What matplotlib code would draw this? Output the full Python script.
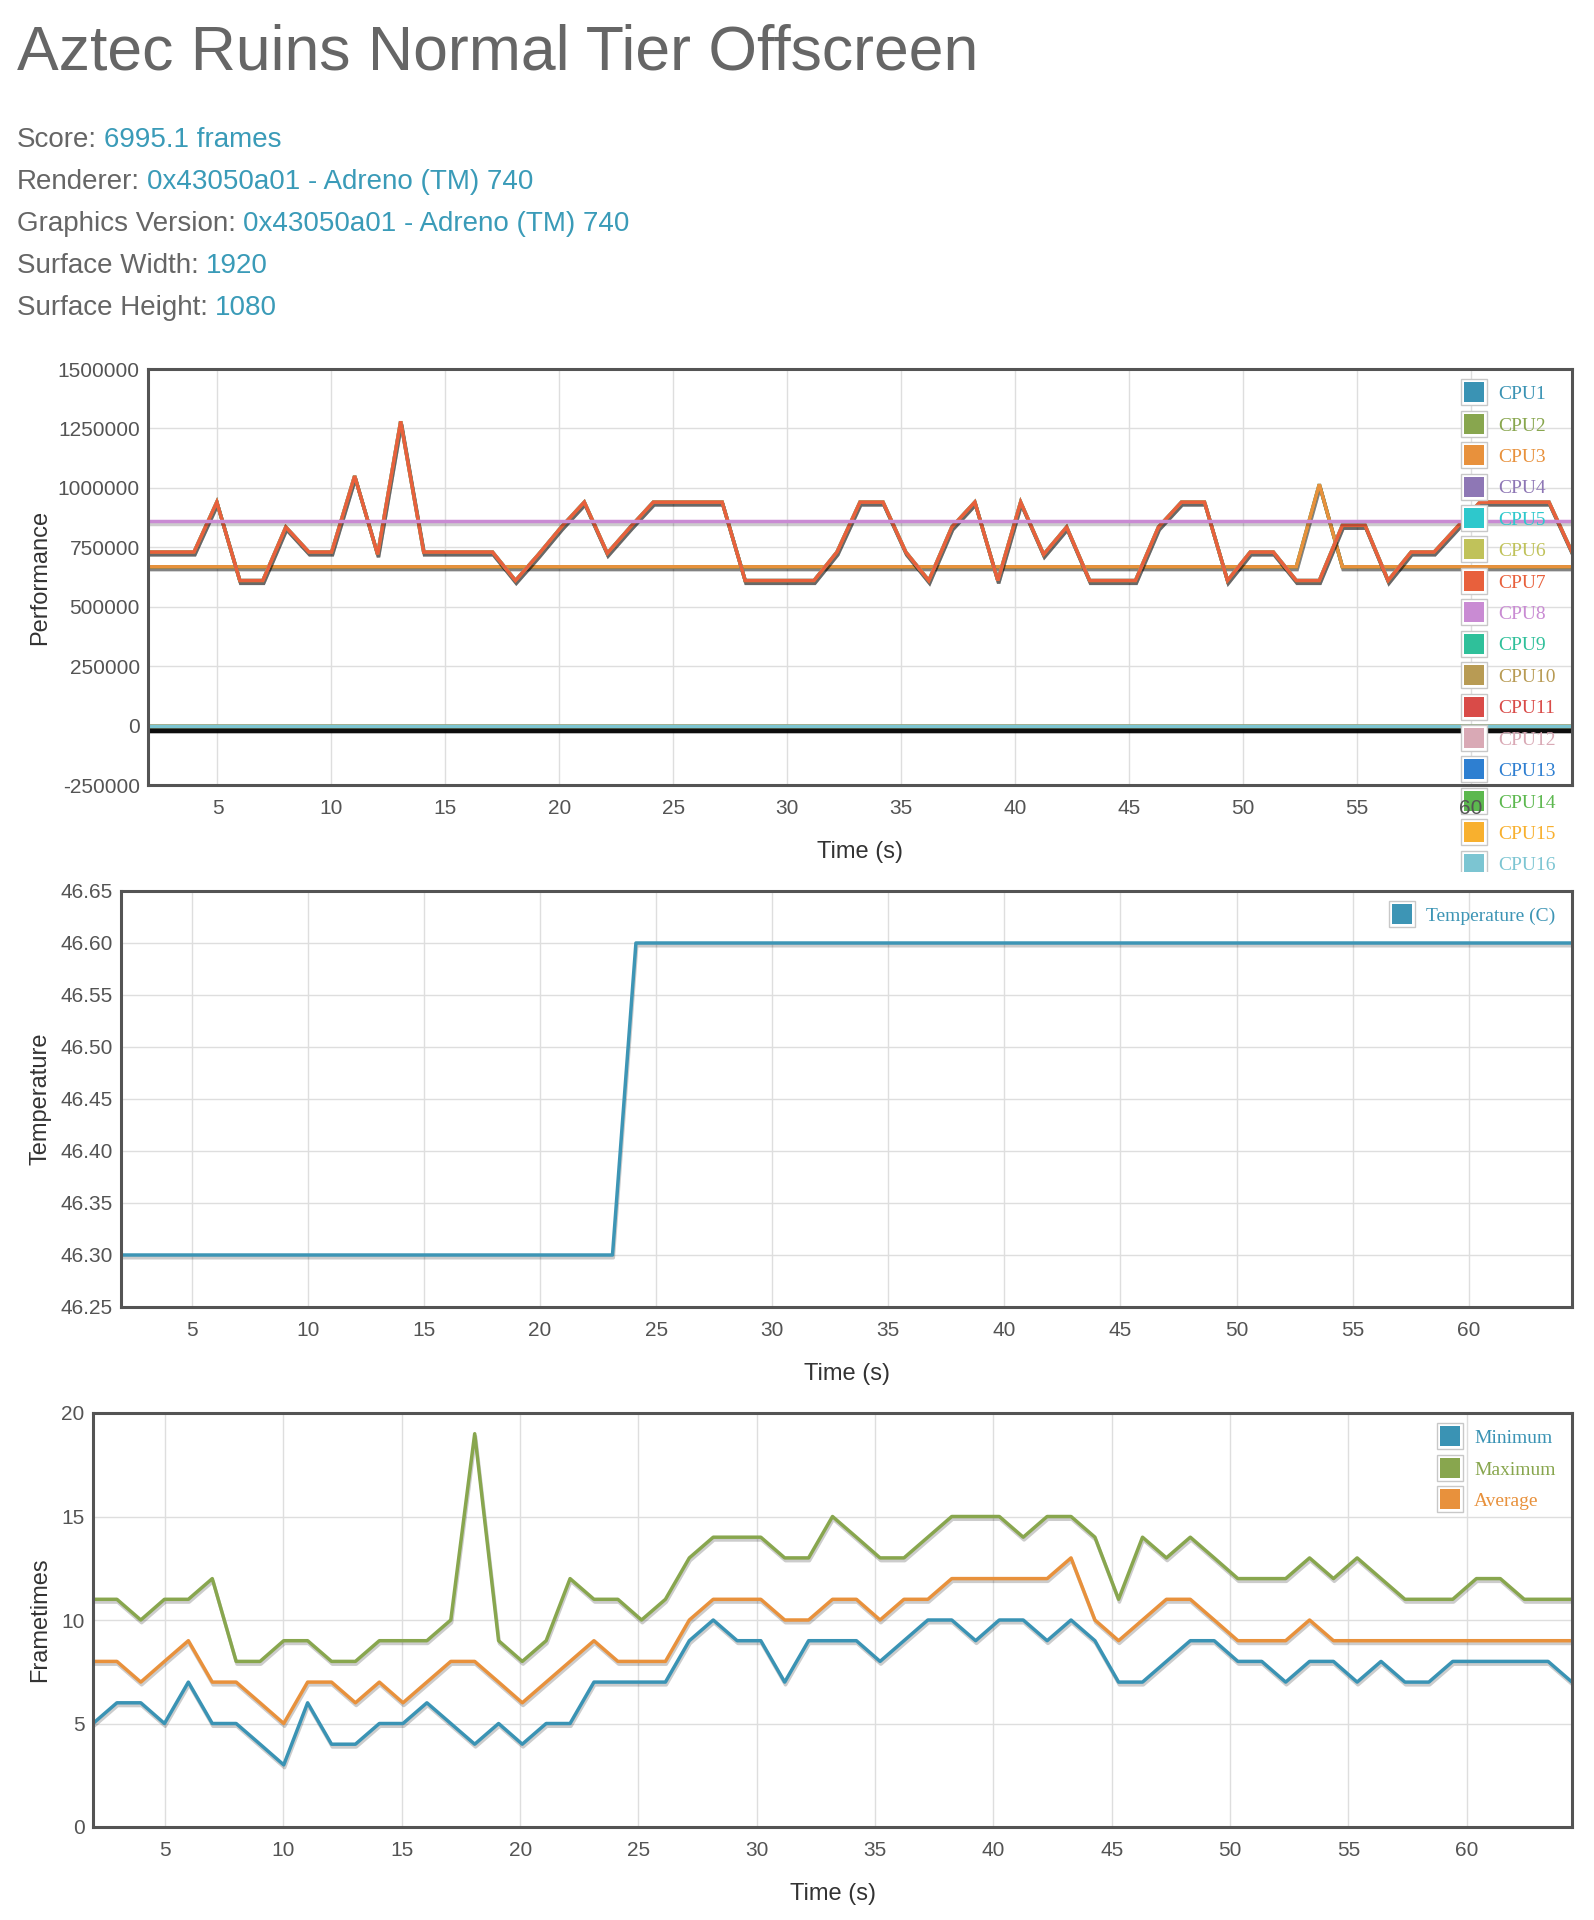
import numpy as np
import matplotlib
matplotlib.use("Agg")
import matplotlib.pyplot as plt
import matplotlib.patheffects as pe
from matplotlib.lines import Line2D
from matplotlib.legend_handler import HandlerTuple
from matplotlib.patches import Rectangle

plt.rcParams['font.family'] = ['Liberation Sans', 'DejaVu Sans']

# ---- data ----
title = "Aztec Ruins Normal Tier Offscreen"
info_labels = ["Score:", "Renderer:", "Graphics Version:", "Surface Width:", "Surface Height:"]
info_values = ["6995.1 frames", "0x43050a01 - Adreno (TM) 740", "0x43050a01 - Adreno (TM) 740", "1920", "1080"]

# sample times (s)
times = [1.95, 2.96, 3.97, 4.97, 5.98, 6.99, 8.00, 9.01, 10.01,
         11.02, 12.03, 13.04, 14.05, 15.05, 16.06, 17.07, 18.08, 19.09,
         20.09, 21.10, 22.11, 23.12, 24.13, 25.13, 26.14, 27.15, 28.16,
         29.17, 30.17, 31.18, 32.19, 33.20, 34.21, 35.21, 36.22, 37.23,
         38.24, 39.25, 40.25, 41.26, 42.27, 43.28, 44.29, 45.29, 46.30,
         47.31, 48.32, 49.33, 50.33, 51.34, 52.35, 53.36, 54.37, 55.37,
         56.38, 57.39, 58.40, 59.41, 60.41, 61.42, 62.43, 63.44, 64.45]

# CPU1-3 (little cluster)
cpu_little = [668000, 668000, 668000, 668000, 668000, 668000, 668000, 668000, 668000,
              668000, 668000, 668000, 668000, 668000, 668000, 668000, 668000, 668000,
              668000, 668000, 668000, 668000, 668000, 668000, 668000, 668000, 668000,
              668000, 668000, 668000, 668000, 668000, 668000, 668000, 668000, 668000,
              668000, 668000, 668000, 668000, 668000, 668000, 668000, 668000, 668000,
              668000, 668000, 668000, 668000, 668000, 668000, 1015000, 668000, 668000,
              668000, 668000, 668000, 668000, 668000, 668000, 668000, 668000, 668000]
# CPU4-7 (mid cluster)
cpu_mid = [730000, 730000, 730000, 940000, 610000, 610000, 835000, 730000, 730000,
           1050000, 720000, 1280000, 730000, 730000, 730000, 730000, 610000, 720000,
           835000, 940000, 725000, 835000, 940000, 940000, 940000, 940000, 610000,
           610000, 610000, 610000, 730000, 940000, 940000, 730000, 610000, 835000,
           940000, 610000, 940000, 720000, 835000, 610000, 610000, 610000, 835000,
           940000, 940000, 610000, 730000, 730000, 610000, 610000, 842000, 842000,
           610000, 730000, 730000, 835000, 940000, 940000, 940000, 940000, 730000]
# CPU8 (prime core)
cpu_prime = [860000, 860000, 860000, 860000, 860000, 860000, 860000, 860000, 860000,
             860000, 860000, 860000, 860000, 860000, 860000, 860000, 860000, 860000,
             860000, 860000, 860000, 860000, 860000, 860000, 860000, 860000, 860000,
             860000, 860000, 860000, 860000, 860000, 860000, 860000, 860000, 860000,
             860000, 860000, 860000, 860000, 860000, 860000, 860000, 860000, 860000,
             860000, 860000, 860000, 860000, 860000, 860000, 860000, 860000, 860000,
             860000, 860000, 860000, 860000, 860000, 860000, 860000, 860000, 860000]
# CPU9-16 (not present)
cpu_off = [0, 0, 0, 0, 0, 0, 0, 0, 0,
           0, 0, 0, 0, 0, 0, 0, 0, 0,
           0, 0, 0, 0, 0, 0, 0, 0, 0,
           0, 0, 0, 0, 0, 0, 0, 0, 0,
           0, 0, 0, 0, 0, 0, 0, 0, 0,
           0, 0, 0, 0, 0, 0, 0, 0, 0,
           0, 0, 0, 0, 0, 0, 0, 0, 0]

cpu_names = ["CPU%d" % (i + 1) for i in range(16)]
cpu_colors = ["#3a93b4", "#88a64e", "#e8913c", "#8e77b5", "#2ec8cc", "#c0c25a",
              "#e8603c", "#c98bd3", "#2fc09a", "#b89b54", "#d94b48", "#d9a9b5",
              "#2e7fd1", "#5cb84e", "#f8b02e", "#7cc5d2"]
cpu_series = [cpu_little] * 3 + [cpu_mid] * 4 + [cpu_prime] + [cpu_off] * 8

temperature = [46.3, 46.3, 46.3, 46.3, 46.3, 46.3, 46.3, 46.3, 46.3,
               46.3, 46.3, 46.3, 46.3, 46.3, 46.3, 46.3, 46.3, 46.3,
               46.3, 46.3, 46.3, 46.3, 46.6, 46.6, 46.6, 46.6, 46.6,
               46.6, 46.6, 46.6, 46.6, 46.6, 46.6, 46.6, 46.6, 46.6,
               46.6, 46.6, 46.6, 46.6, 46.6, 46.6, 46.6, 46.6, 46.6,
               46.6, 46.6, 46.6, 46.6, 46.6, 46.6, 46.6, 46.6, 46.6,
               46.6, 46.6, 46.6, 46.6, 46.6, 46.6, 46.6, 46.6, 46.6]

ft_min = [5, 6, 6, 5, 7, 5, 5, 4, 3,
          6, 4, 4, 5, 5, 6, 5, 4, 5,
          4, 5, 5, 7, 7, 7, 7, 9, 10,
          9, 9, 7, 9, 9, 9, 8, 9, 10,
          10, 9, 10, 10, 9, 10, 9, 7, 7,
          8, 9, 9, 8, 8, 7, 8, 8, 7,
          8, 7, 7, 8, 8, 8, 8, 8, 7]
ft_max = [11, 11, 10, 11, 11, 12, 8, 8, 9,
          9, 8, 8, 9, 9, 9, 10, 19, 9,
          8, 9, 12, 11, 11, 10, 11, 13, 14,
          14, 14, 13, 13, 15, 14, 13, 13, 14,
          15, 15, 15, 14, 15, 15, 14, 11, 14,
          13, 14, 13, 12, 12, 12, 13, 12, 13,
          12, 11, 11, 11, 12, 12, 11, 11, 11]
ft_avg = [8, 8, 7, 8, 9, 7, 7, 6, 5,
          7, 7, 6, 7, 6, 7, 8, 8, 7,
          6, 7, 8, 9, 8, 8, 8, 10, 11,
          11, 11, 10, 10, 11, 11, 10, 11, 11,
          12, 12, 12, 12, 12, 13, 10, 9, 10,
          11, 11, 10, 9, 9, 9, 10, 9, 9,
          9, 9, 9, 9, 9, 9, 9, 9, 9]
ft_names = ["Minimum", "Maximum", "Average"]
ft_colors = ["#3a93b4", "#88a64e", "#e8913c"]

x_ticks = [5, 10, 15, 20, 25, 30, 35, 40, 45, 50, 55, 60]
perf_ticks = [-250000, 0, 250000, 500000, 750000, 1000000, 1250000, 1500000]
temp_ticks = [46.25, 46.30, 46.35, 46.40, 46.45, 46.50, 46.55, 46.60, 46.65]
ft_ticks = [0, 5, 10, 15, 20]

# ---- styling ----
W, H = 1594, 1920
TXT = "#666666"
VAL = "#3a9bb8"
TICK = "#545454"
FRAME = "#545454"
GRID = "#dedede"
LW = 2.5


def shadow(width=None, dy=-2.0, alpha=0.2):
    kw = {} if width is None else {"linewidth": width}
    return [pe.SimpleLineShadow(offset=(0.6, dy), shadow_color="black", alpha=alpha, **kw),
            pe.Normal()]


def px_axes(left, top, right, bottom):
    return fig.add_axes([left / W, 1 - bottom / H, (right - left) / W, (bottom - top) / H])


def style_axes(ax, ylabel, height_px, yticks, ylabels):
    ax.set_xlim(times[0], times[-1])
    ax.set_xticks(x_ticks)
    ax.set_yticks(yticks)
    ax.set_yticklabels(ylabels)
    ax.set_ylim(yticks[0], yticks[-1])
    # grid drawn as plain lines so that tick labels can sit above the legend
    for xv in x_ticks:
        ax.axvline(xv, color=GRID, lw=1.0, zorder=0.5)
    for yv in yticks:
        ax.axhline(yv, color=GRID, lw=1.0, zorder=0.5)
    ax.set_axisbelow(False)
    ax.tick_params(length=0, labelsize=15, labelcolor=TICK)
    ax.tick_params(axis="x", pad=10)
    ax.tick_params(axis="y", pad=6)
    for s in ax.spines.values():
        s.set_color(FRAME)
        s.set_linewidth(2.2)
    ax.set_xlabel("Time (s)", fontsize=17, color="#333333", va="center")
    ax.xaxis.set_label_coords(0.5, -67 / height_px)
    ax.set_ylabel(ylabel, fontsize=17, color="#333333", va="center")


def swatch(color):
    outer = Line2D([], [], ls="none", marker="s", ms=19, mfc="white", mec="#c8c8c8", mew=1.0)
    inner = Line2D([], [], ls="none", marker="s", ms=15, mfc=color, mec=color, mew=0)
    return (outer, inner)


def add_legend(ax, names, colors):
    leg = ax.legend([swatch(c) for c in colors], names,
                    handler_map={tuple: HandlerTuple(ndivide=1)},
                    loc="upper right", bbox_to_anchor=(1, 1), borderaxespad=0.85,
                    frameon=False, prop={"family": "Liberation Serif", "size": 14},
                    handlelength=1.5, handletextpad=0.5, labelspacing=0.71, borderpad=0.0)
    for t, c in zip(leg.get_texts(), colors):
        t.set_color(c)
    leg.set_zorder(2.2)
    return leg


fig = plt.figure(figsize=(W / 100, H / 100), dpi=100)

# ---- header ----
fig.text(17 / W, 1 - 70 / H, title, fontsize=45, color=TXT, va="baseline")
renderer = fig.canvas.get_renderer()
for k, (lab, val) in enumerate(zip(info_labels, info_values)):
    y = 1 - (147 + 42 * k) / H
    t = fig.text(17 / W, y, lab, fontsize=20, color=TXT, va="baseline")
    bb = t.get_window_extent(renderer)
    fig.text((bb.x1 + 7) / W, y, val, fontsize=20, color=VAL, va="baseline")

# ---- CPU performance chart ----
ax1 = px_axes(148, 369, 1572, 785)
for name, col, ser in zip(cpu_names, cpu_colors, cpu_series):
    if ser is cpu_off:
        fx = shadow(width=4.5, dy=-3.2, alpha=0.3)
    else:
        fx = shadow()
    ax1.plot(times, ser, color=col, lw=LW, path_effects=fx, solid_joinstyle="miter", zorder=2)
style_axes(ax1, "Performance", 416, perf_ticks, [str(v) for v in perf_ticks])
ax1.yaxis.set_label_coords((40 - 148) / 1424, 0.5)
add_legend(ax1, cpu_names, cpu_colors)

# ---- temperature chart ----
ax2 = px_axes(121, 891, 1572, 1307)
ax2.plot(times, temperature, color="#3d95b5", lw=LW, path_effects=shadow(), zorder=2)
style_axes(ax2, "Temperature", 416, temp_ticks, ["%.2f" % v for v in temp_ticks])
ax2.yaxis.set_label_coords((40 - 121) / 1451, 0.5)
add_legend(ax2, ["Temperature (C)"], ["#3d95b5"])

# ---- frametimes chart ----
ax3 = px_axes(93, 1413, 1572, 1827)
for ser, col in zip([ft_min, ft_max, ft_avg], ft_colors):
    ax3.plot(times, ser, color=col, lw=LW, path_effects=shadow(), zorder=2)
style_axes(ax3, "Frametimes", 414, ft_ticks, [str(v) for v in ft_ticks])
ax3.yaxis.set_label_coords((40 - 93) / 1479, 0.5)
add_legend(ax3, ft_names, ft_colors)

# the CPU legend is cut off where its container ends
fig.add_artist(Rectangle((1420 / W, 1 - 888 / H), 174 / W, 16 / H, transform=fig.transFigure,
                         facecolor="white", edgecolor="none", zorder=5))

fig.savefig("out.png", dpi=100)
